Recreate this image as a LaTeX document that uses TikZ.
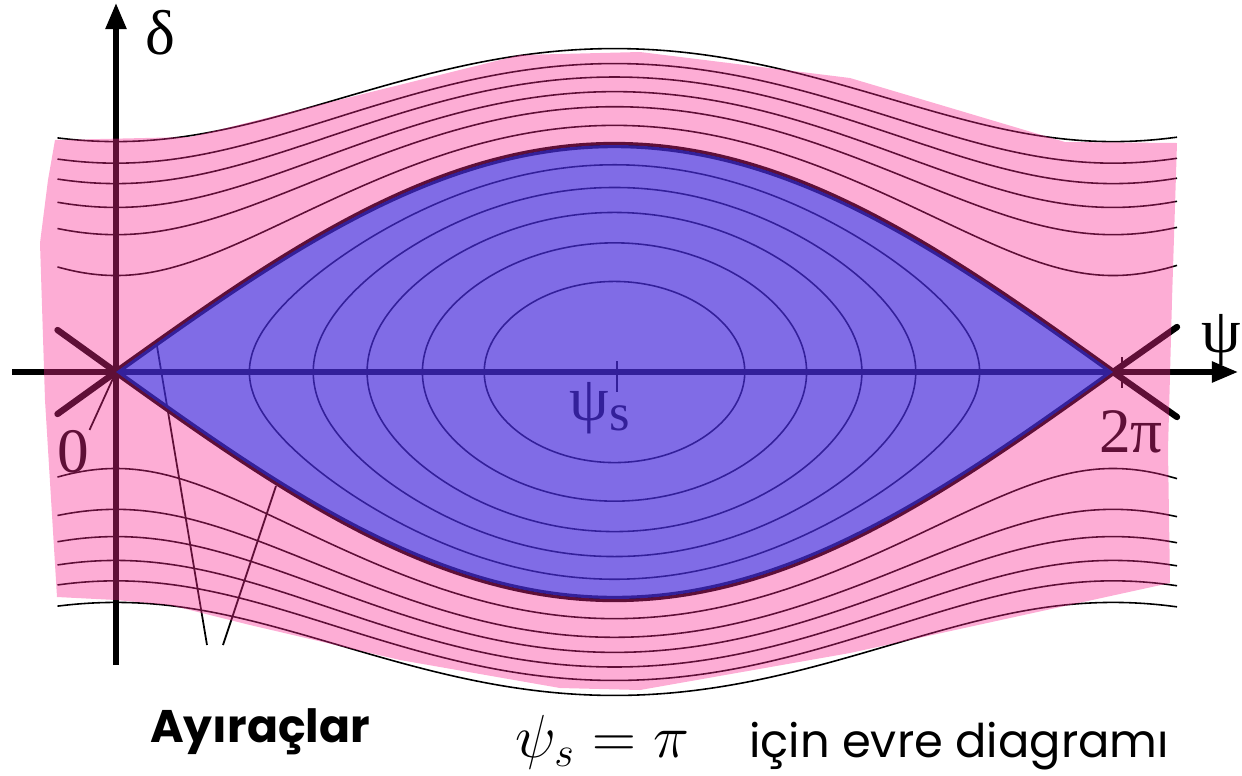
\documentclass[tikz,border=0pt]{standalone}
\usepackage{fontspec}
\usepackage{tikz}
\usetikzlibrary{arrows.meta,positioning,calc}
\newfontfamily\serif{Liberation Serif}
\newfontfamily\comic{Poppins}
\definecolor{sepPink}{RGB}{250,40,145}
\definecolor{eyeBlue}{RGB}{74,46,220}

\def\lens{plot[domain=-3.1416:3.1416, samples=120] ({614.5+158.7*\x},{372-227*cos(deg(\x/2))}) -- plot[domain=3.1416:-3.1416, samples=120] ({614.5+158.7*\x},{372+227*cos(deg(\x/2))}) -- cycle}

\begin{document}
\begin{tikzpicture}[
    x=0.01cm, y=-0.01cm,
    axis/.style={line width=1.5pt, -{Triangle[length=0.26cm, width=0.2cm]}},
    orbit/.style={line width=0.45pt},
    sepline/.style={line width=1.8pt, line cap=round, line join=round},
    thin/.style={line width=0.5pt},
    glabel/.style={inner sep=0pt, font=\fontsize{18}{20}\selectfont\serif},
    caption/.style={inner sep=0pt, font=\fontsize{13}{16}\selectfont\comic}
]
    \useasboundingbox (0,0) rectangle (1242,775);

    \coordinate (O) at (115.9,372);
    \coordinate (P) at (1113.1,372);
    \coordinate (S) at (617,372);

    \draw[axis] (116,665) -- (116,3);
    \draw[axis] (12,372) -- (1238,372);
    \node[glabel] (delta) at (160,33) {δ};
    \node[glabel] (psi) at (1221,340) {ψ};

    \foreach \k in {0.913,0.813,0.703,0.569,0.399}
        \draw[orbit] plot[domain=0:360, samples=120, smooth] ({614.5+317.4*rad(asin(\k*sin(\x)))},{372-227*\k*cos(\x)}) -- cycle;

    \foreach \m in {0.85,1.21,1.45,1.66,1.84,2.03} {
        \draw[orbit] plot[domain=-3.51:3.545, samples=100, smooth] ({614.5+158.7*\x},{372-113.5*sqrt(\m*\m+4*cos(deg(\x/2))^2)});
        \draw[orbit] plot[domain=-3.51:3.545, samples=100, smooth] ({614.5+158.7*\x},{372+113.5*sqrt(\m*\m+4*cos(deg(\x/2))^2)});
    }

    \draw[sepline] \lens;
    \draw[sepline] (57.5,330) -- (O) -- (57.5,414);
    \draw[sepline] (1177,327) -- (P) -- (1177,417);

    \draw[thin] (1122,357) -- (1122,388);
    \draw[thin] (S) ++(0,-11) -- ++(0,31);

    \node[glabel] (zero) at (73,452) {0};
    \node[glabel] (twopi) at (1131,432) {2π};
    \node[glabel] (psis) at (600,408) {ψ\raisebox{-0.35ex}{\fontsize{15}{16}\selectfont s}};
    \draw[thin] (zero.north east) -- (O);

    \coordinate (s1) at (157,346);
    \coordinate (s2) at (276,486);
    \coordinate (q1) at (207,645);
    \coordinate (q2) at (223,645);
    \draw[thin] (q1) -- (s1);
    \draw[thin] (q2) -- (s2);

    \fill[sepPink, opacity=0.38, even odd rule] (55,140) -- (190,137) -- (520,55) -- (640,52) -- (850,78) -- (1065,142) -- (1177,143) -- (1172,300) -- (1168,450) -- (1170,583) -- (850,653) -- (640,690) -- (560,688) -- (400,660) -- (250,625) -- (170,605) -- (116,600) -- (57,597) -- (45,400) -- (40,243) -- (48,180) -- cycle \lens;
    \fill[eyeBlue, opacity=0.7] \lens;

    \node[caption, font=\fontsize{13}{16}\selectfont\comic\bfseries, anchor=base] (separ) at (260,742) {Ayıraçlar};
    \node[caption, anchor=base west] (title) at (515,757) {\fontsize{18}{20}\selectfont$\psi_s=\pi$\hspace{0.6cm}\fontsize{13.2}{16}\selectfont için evre diagramı};
\end{tikzpicture}
\end{document}
